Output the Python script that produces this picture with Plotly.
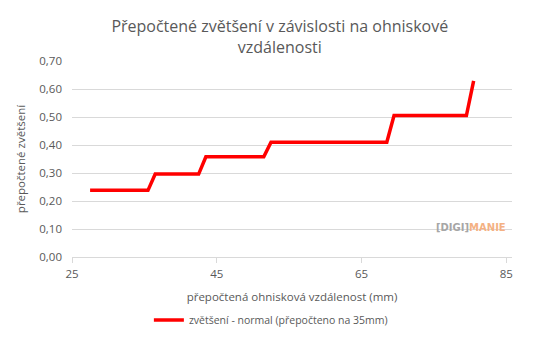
import plotly.graph_objects as go

focal = [27.5, 35.5, 36.5, 42.5, 43.5, 51.5, 52.5, 68.5, 69.5, 79.5, 80.5]
magnif = [0.238, 0.238, 0.296, 0.296, 0.358, 0.358, 0.41, 0.41, 0.505, 0.505, 0.629]
x_ticks = [25, 45, 65, 85]
y_ticks = [0.0, 0.1, 0.2, 0.3, 0.4, 0.5, 0.6, 0.7]
y_labels = ["0,00", "0,10", "0,20", "0,30", "0,40", "0,50", "0,60", "0,70"]

FONT = "Open Sans"
GRAY = "#595959"

fig = go.Figure()
fig.add_trace(go.Scatter(
    x=focal, y=magnif, mode="lines",
    line=dict(color="#ff0000", width=3.5),
    name="zvětšení - normal (přepočteno na 35mm)",
))

fig.update_layout(
    width=536, height=339,
    margin=dict(l=72, r=24, t=61, b=82, autoexpand=False),
    paper_bgcolor="white", plot_bgcolor="white",
    font=dict(family=FONT, color=GRAY, size=11),
    title=dict(
        text="Přepočtené zvětšení v závislosti na ohniskové<br>vzdálenosti",
        x=0.522, xanchor="center", yref="container", y=0.905, yanchor="middle",
        font=dict(family=FONT, size=16, color=GRAY),
    ),
    showlegend=True,
    legend=dict(orientation="h", x=0.452, xanchor="center",
                yref="container", y=0.056, yanchor="middle",
                font=dict(family=FONT, size=10.5, color=GRAY), itemwidth=30),
    xaxis=dict(
        range=[25, 85.8], tickvals=x_ticks, ticktext=[str(v) for v in x_ticks],
        showgrid=False, zeroline=False, showline=True, linecolor="#d9d9d9",
        ticks="outside", ticklen=5, tickcolor="#d9d9d9",
        ticklabelstandoff=1, automargin=False,
        tickfont=dict(size=11.5, color=GRAY),
        title=dict(text="přepočtená ohnisková vzdálenost (mm)", standoff=13,
                   font=dict(size=11.5, color=GRAY)),
    ),
    yaxis=dict(
        range=[0, 0.7], tickvals=y_ticks, ticktext=y_labels,
        showgrid=True, gridcolor="#d9d9d9", gridwidth=1, zeroline=False,
        showline=False, ticks="", ticklabelstandoff=9, automargin=False,
        tickfont=dict(size=11.5, color=GRAY),
        title=dict(text="přepočtené zvětšení", standoff=11,
                   font=dict(size=11.5, color=GRAY)),
    ),
)

fig.add_annotation(
    xref="paper", yref="paper", x=0.99, y=0.153, xanchor="right", yanchor="middle",
    showarrow=False,
    text="<b><span style='color:#a6a6a6'>[DIGI]</span><span style='color:#f4b183'>MANIE</span></b>",
    font=dict(family="DejaVu Sans", size=10),
)

fig.write_html("out.html")
